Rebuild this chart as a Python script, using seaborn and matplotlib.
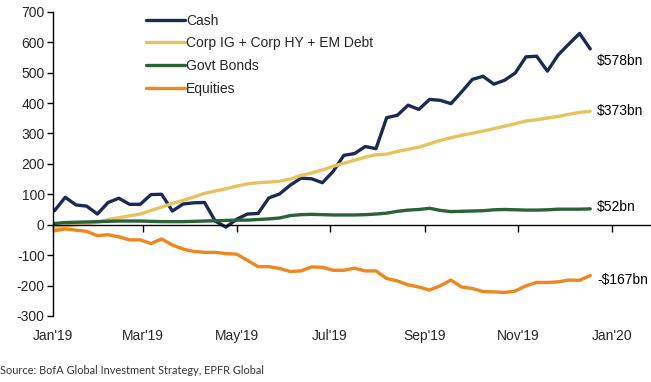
import numpy as np
import pandas as pd
import seaborn as sns
import matplotlib.pyplot as plt
import matplotlib.dates as mdates

# weekly cumulative flows since start of 2019, $bn
dates = pd.date_range("2019-01-02", periods=51, freq="7D")

cash = [46, 90, 65, 61, 35, 73, 87, 67, 67, 99, 100, 45, 68, 72, 73, 12, -8, 18, 35, 37,
        88, 101, 130, 153, 151, 138, 175, 228, 234, 257, 250, 352, 360, 393, 379, 412, 409,
        398, 437, 478, 488, 462, 475, 499, 552, 554, 505, 558, 594, 629, 578]
corp = [-12, -4, 0, 4, 8, 17, 23, 29, 35, 47, 58, 70, 80, 91, 103, 111, 118, 127, 134, 138,
        140, 143, 150, 162, 170, 180, 192, 202, 212, 222, 230, 232, 241, 248, 255, 266, 277,
        286, 294, 301, 308, 316, 324, 332, 341, 345, 351, 356, 363, 369, 373]
govt = [4, 7, 8, 9, 10, 11, 12, 12, 12, 11, 10, 10, 10, 11, 12, 13, 14, 15, 15, 17,
        19, 22, 30, 33, 34, 33, 32, 32, 32, 33, 35, 38, 44, 48, 50, 54, 47, 43, 44, 45,
        46, 49, 50, 49, 48, 48, 49, 51, 51, 51, 52]
equities = [-20, -14, -18, -22, -36, -33, -40, -50, -50, -62, -47, -67, -80, -88, -91, -91,
            -95, -97, -117, -138, -138, -144, -154, -152, -139, -140, -150, -150, -143, -152,
            -152, -177, -185, -198, -205, -215, -201, -182, -205, -210, -220, -221, -223, -218,
            -201, -190, -190, -188, -182, -183, -167]

names = ["Cash", "Corp IG + Corp HY + EM Debt", "Govt Bonds", "Equities"]
colors = ["#1b2a52", "#e6c35e", "#2b6236", "#f0861e"]
end_labels = ["$578bn", "$373bn", "$52bn", "-$167bn"]

df = pd.DataFrame({"date": dates, "Cash": cash, names[1]: corp,
                   "Govt Bonds": govt, "Equities": equities})
long = df.melt(id_vars="date", var_name="asset", value_name="flow")

sns.set_theme(style="white")
plt.rcParams['font.family'] = ['Liberation Sans', 'DejaVu Sans']
plt.rcParams['axes.unicode_minus'] = False

fig = plt.figure(figsize=(6.51, 3.82), dpi=100)
ax = fig.add_axes([0.0814, 0.173, 0.917, 0.796])

sns.lineplot(data=long, x="date", y="flow", hue="asset", hue_order=names,
             palette=colors, linewidth=2.4, ax=ax)

ax.set_ylim(-300, 700)
ax.set_yticks(range(-300, 701, 100))
ax.set_xlim(pd.Timestamp("2019-01-01"), pd.Timestamp("2020-01-26"))
ax.xaxis.set_major_locator(mdates.MonthLocator(bymonth=[1, 3, 5, 7, 9, 11]))
ax.xaxis.set_major_formatter(mdates.DateFormatter("%b'%y"))
ax.set_xlabel("")
ax.set_ylabel("")

for s in ["top", "right"]:
    ax.spines[s].set_visible(False)
ax.spines["bottom"].set_position(("data", 0))
ax.spines["left"].set_bounds(-300, 700)
for s in ["left", "bottom"]:
    ax.spines[s].set_color("black")
    ax.spines[s].set_linewidth(1)

ax.tick_params(axis="y", which="major", direction="out", length=4, width=1,
               color="black", labelsize=10, pad=2, left=True)
ax.tick_params(axis="x", which="major", direction="out", length=5, width=1,
               color="black", labelsize=10, pad=70, bottom=True)

handles, labels = ax.get_legend_handles_labels()
ax.legend(handles, labels, loc="upper left", bbox_to_anchor=(0.135, 1.035),
          frameon=False, fontsize=10, handlelength=2.8, handletextpad=0.1,
          labelspacing=0.62)

# end-of-series labels
offsets = [-9, 0, 1, -3]
for vals, lab, dy in zip([cash, corp, govt, equities], end_labels, offsets):
    ax.annotate(lab.replace("$", r"\$"), xy=(dates[-1], vals[-1]),
                xytext=(5, dy), textcoords="offset points",
                va="center", ha="left", fontsize=10, color="black")

fig.text(0.0, 0.022, "Source: BofA Global Investment Strategy, EPFR Global",
         fontsize=7.9, color="#333333", family=["Lato", "DejaVu Sans"])

fig.savefig("out.png", dpi=100)
